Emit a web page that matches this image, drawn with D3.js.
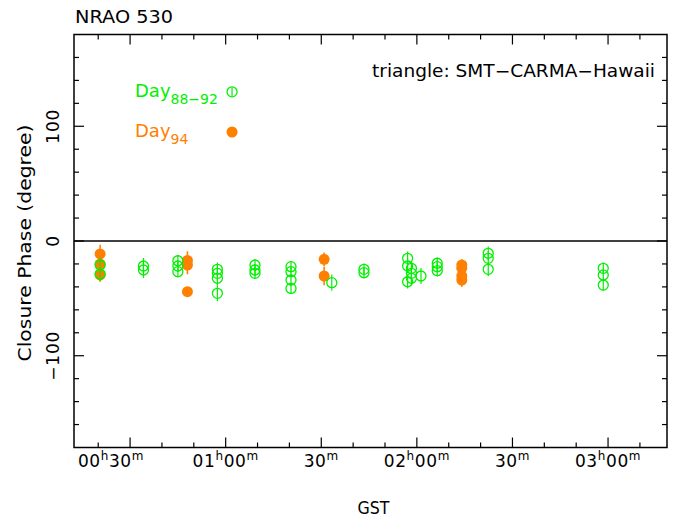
<!DOCTYPE html>
<html><head><meta charset="utf-8">
<script src="https://cdn.jsdelivr.net/npm/d3@7"></script>
<style>
html,body{margin:0;padding:0;background:#fff;}
svg{display:block;}
text{font-family:"DejaVu Sans",Verdana,sans-serif;}
</style></head>
<body><svg id="c" width="678" height="517"></svg>
<script>
// ---- data (time in minutes of GST, closure phase in degrees) ----
const day8892Time  = [20.6,20.6, 34.2,34.2, 45.0,45.0,45.0, 57.4,57.4,57.4,57.4, 69.2,69.2,69.2, 80.5,80.5,80.5,80.5, 93.3, 103.4,103.4, 117.1,117.1,117.1, 118.3,118.3,118.3, 121.3, 126.4,126.4,126.4, 142.4,142.4,142.4, 178.5,178.5,178.5];
const day8892Phase = [-20.9,-28.8, -21.8,-25.3, -17.2,-21.8,-26.7, -24.7,-28.2,-32.5,-45.6, -20.9,-25.3,-28.2, -22.4,-26.7,-34.0,-41.3, -36.3, -24.7,-27.6, -15.1,-21.8,-35.5, -23.8,-28.2,-32.5, -30.5, -19.4,-22.4,-25.9, -10.7,-15.1,-24.7, -23.8,-29.6,-38.4];
const day8892Err   = [6,6, 7,7, 5,5,5, 6,6,6,7, 5,5,5, 5,5,5,5, 7, 5,5, 6,6,6, 6,6,6, 7, 5,5,5, 6,6,6, 5,5,5];
const day94Time  = [20.6,20.6,20.6, 48.0,48.0,48.0, 90.9,90.9, 134.1,134.1,134.1,134.1];
const day94Phase = [-11.3,-20.1,-29.6, -17.0,-21.0,-44.2, -16.0,-30.5, -20.9,-23.8,-30.5,-34.0];
const day94Err   = [8,6,6, 8,8,2, 6,8, 5,5,5,6];
const xTickValues = [30,60,90,120,150,180];
const xTickLabels = ["00h30m","01h00m","30m","02h00m","30m","03h00m"];
const yTickValues = [-100,0,100];
const yTickLabels = ["\u2212100","0","100"];
const legendTime = 62;
const legendPhase = [130,95];
const legendLabels = [["Day","88\u221292"],["Day","94"]];
const title = "NRAO 530";
const triangleLabel = "triangle: SMT\u2212CARMA\u2212Hawaii";
const xLabel = "GST";
const yLabel = "Closure Phase (degree)";

// ---- layout ----
const green = "#00f000", orange = "#ff8000";
const L=74, R=667, T=34.5, B=447.5;
const svg = d3.select("#c");
const x = d3.scaleLinear().domain([12.4,198.5]).range([L,R]);
const y = d3.scaleLinear().domain([-180,180]).range([B,T]);
const fs = 17;

// zero line
svg.append("line").attr("x1",L).attr("x2",R).attr("y1",y(0)).attr("y2",y(0))
  .attr("stroke","#000").attr("stroke-width",1.3);

// ticks
const g = svg.append("g").attr("stroke","#000").attr("stroke-width",1.2);
d3.range(20,199,10).forEach(v=>{
  const len = (v%30===0)?10:5;
  g.append("line").attr("x1",x(v)).attr("x2",x(v)).attr("y1",B).attr("y2",B-len);
  g.append("line").attr("x1",x(v)).attr("x2",x(v)).attr("y1",T).attr("y2",T+len);
});
d3.range(-160,161,20).forEach(v=>{
  const len = (v%100===0)?10:5;
  g.append("line").attr("x1",L).attr("x2",L+len).attr("y1",y(v)).attr("y2",y(v));
  g.append("line").attr("x1",R).attr("x2",R-len).attr("y1",y(v)).attr("y2",y(v));
});
// frame
svg.append("rect").attr("x",L).attr("y",T).attr("width",R-L).attr("height",B-T)
  .attr("fill","none").attr("stroke","#000").attr("stroke-width",1.5);

// x tick labels with superscripts
xTickValues.forEach((v,i)=>{
  const lab = xTickLabels[i];
  const t = svg.append("text").attr("y",467).attr("font-size",fs).attr("fill","#000")
    .attr("letter-spacing",0.6);
  if(i===0){ t.attr("x",x(v)+14).attr("text-anchor","end"); }
  else { t.attr("x",x(v)).attr("text-anchor","middle"); }
  const parts = lab.match(/(\d+)([hm])/g);
  parts.forEach((p,j)=>{
    t.append("tspan").attr("dy", j>0 ? 7 : 0).text(p.slice(0,-1));
    t.append("tspan").attr("font-size",12).attr("dy",-7).text(p.slice(-1));
  });
});
// y tick labels (rotated)
yTickValues.forEach((v,i)=>{
  svg.append("text").attr("transform",`translate(59,${y(v)}) rotate(-90)`)
    .attr("text-anchor","middle").attr("font-size",fs).attr("fill","#000")
    .attr("letter-spacing",0.8).text(yTickLabels[i]);
});
// axis titles
svg.append("text").attr("x",(L+R)/2+3).attr("y",514).attr("text-anchor","middle")
  .attr("font-size",fs).attr("textLength",32).attr("lengthAdjust","spacingAndGlyphs").text(xLabel);
svg.append("text").attr("transform",`translate(31,${(T+B)/2+2}) rotate(-90)`)
  .attr("text-anchor","middle").attr("font-size",fs)
  .attr("textLength",237).attr("lengthAdjust","spacingAndGlyphs").text(yLabel);
svg.append("text").attr("x",L+1).attr("y",23).attr("font-size",fs)
  .attr("textLength",98).attr("lengthAdjust","spacingAndGlyphs").text(title);
svg.append("text").attr("x",372).attr("y",77).attr("font-size",fs)
  .attr("textLength",283).attr("lengthAdjust","spacingAndGlyphs").text(triangleLabel);

// data
function drawOpen(times, phases, errs, col){
  const gg = svg.append("g");
  times.forEach((t,i)=>{
    gg.append("line").attr("x1",x(t)).attr("x2",x(t))
      .attr("y1",y(phases[i]+errs[i])).attr("y2",y(phases[i]-errs[i]))
      .attr("stroke",col).attr("stroke-width",1.2);
    gg.append("circle").attr("cx",x(t)).attr("cy",y(phases[i])).attr("r",5)
      .attr("fill","none").attr("stroke",col).attr("stroke-width",1.3);
  });
}
function drawFilled(times, phases, errs, col){
  const gg = svg.append("g");
  times.forEach((t,i)=>{
    gg.append("line").attr("x1",x(t)).attr("x2",x(t))
      .attr("y1",y(phases[i]+errs[i])).attr("y2",y(phases[i]-errs[i]))
      .attr("stroke",col).attr("stroke-width",1.6);
    gg.append("circle").attr("cx",x(t)).attr("cy",y(phases[i])).attr("r",5.5)
      .attr("fill",col);
  });
}
drawFilled(day94Time, day94Phase, day94Err, orange);
drawOpen(day8892Time, day8892Phase, day8892Err, green);

// legend
drawOpen([legendTime],[legendPhase[0]],[4],green);
drawFilled([legendTime],[legendPhase[1]],[0],orange);
[green,orange].forEach((col,i)=>{
  const t = svg.append("text").attr("x",135).attr("y",y(legendPhase[i])+5)
    .attr("font-size",fs+1).attr("fill",col);
  t.append("tspan").text(legendLabels[i][0]);
  t.append("tspan").attr("font-size",14).attr("dy",7).text(legendLabels[i][1]);
});
</script></body></html>
